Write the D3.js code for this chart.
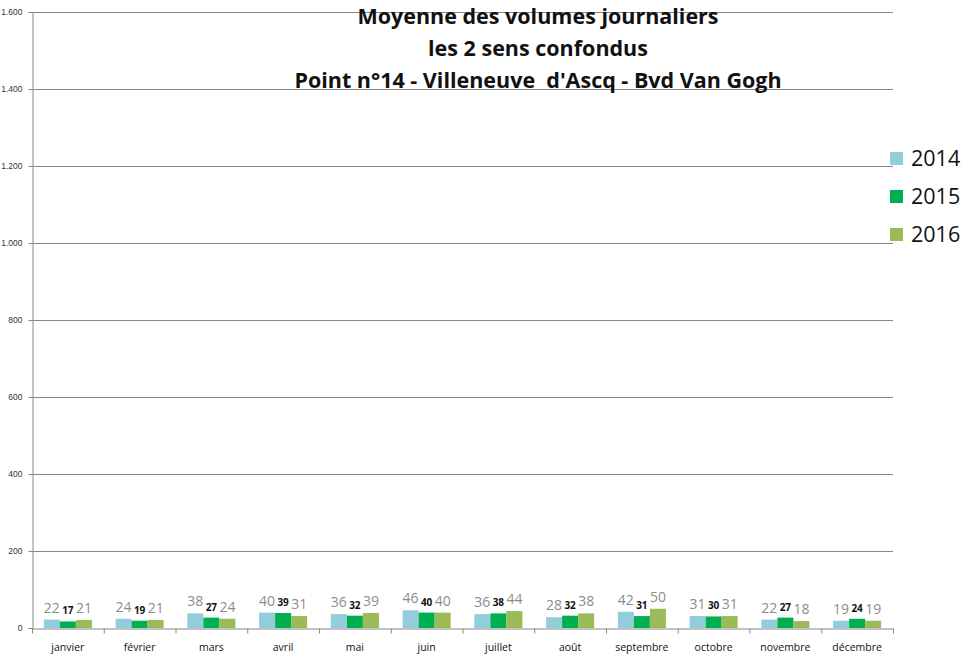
<!DOCTYPE html>
<html><head><meta charset="utf-8">
<script src="https://cdn.jsdelivr.net/npm/d3@7"></script>
<style>body{margin:0;background:#fff}svg{display:block}</style>
</head><body>
<svg id="c" width="970" height="659"></svg>
<script>
const months = ["janvier","février","mars","avril","mai","juin","juillet","août","septembre","octobre","novembre","décembre"];
const years = ["2014","2015","2016"];
const v2014 = [22,24,38,40,36,46,36,28,42,31,22,19];
const v2015 = [17,19,27,39,32,40,38,32,31,30,27,24];
const v2016 = [21,21,24,31,39,40,44,38,50,31,18,19];
const yTicks = [0,200,400,600,800,1000,1200,1400,1600];
const titleLines = ["Moyenne des volumes journaliers","les 2 sens confondus","Point n°14 - Villeneuve  d'Ascq - Bvd Van Gogh"];
const colors = ["#92CDDC","#00B050","#9BBB59"];
const series = [v2014, v2015, v2016];

const svg = d3.select("#c");
const L = 32, R = 893, T = 12, B = 628;
const x = d3.scaleBand().domain(months).range([L, R]).paddingInner(0.33).paddingOuter(0.165);
const xc = d3.scaleBand().domain(months).range([L, R]);
const xs = d3.scaleBand().domain(years).range([0, x.bandwidth()]);
const y = d3.scaleLinear().domain([0,1600]).range([B, T]);
const fmt = v => v >= 1000 ? d3.format(",")(v).replace(",", ".") : String(v);

// gridlines
svg.append("g").selectAll("line").data(yTicks.filter(d=>d>0)).join("line")
  .attr("x1", L).attr("x2", R).attr("y1", d=>y(d)+0.5).attr("y2", d=>y(d)+0.5)
  .attr("stroke", "#878787").attr("stroke-width", 1);

// y axis
const ya = svg.append("g").attr("transform", `translate(${L+0.5},0)`)
  .call(d3.axisLeft(y).tickValues(yTicks).tickSize(4).tickFormat(fmt));
ya.select(".domain").attr("stroke", "#878787");
ya.selectAll(".tick line").attr("stroke", "#878787");
ya.selectAll(".tick text").attr("x", -10).attr("font-family", "'Liberation Sans', Arial, sans-serif")
  .attr("font-size", 8.5).attr("fill", "#333");

// bars
years.forEach((yr, i) => {
  svg.append("g").selectAll("rect").data(months).join("rect")
    .attr("x", m => x(m) + xs(yr)).attr("width", xs.bandwidth())
    .attr("y", (m, j) => y(series[i][j])).attr("height", (m, j) => B - y(series[i][j]))
    .attr("fill", colors[i]);
});

// x axis
const xa = svg.append("g").attr("transform", `translate(0,${B+0.5})`)
  .call(d3.axisBottom(xc).tickSize(5).tickSizeOuter(0).tickFormat(""));
xa.select(".domain").attr("stroke", "#878787");
xa.selectAll(".tick").remove();
const edges = months.map(m => xc(m)).concat([R]);
xa.selectAll("line.e").data(edges).join("line").attr("class","e")
  .attr("x1", d=>d+0.5).attr("x2", d=>d+0.5).attr("y1", 0).attr("y2", 5).attr("stroke", "#878787");
svg.append("g").selectAll("text").data(months).join("text")
  .attr("x", m => xc(m) + xc.bandwidth()/2).attr("y", 651)
  .attr("text-anchor", "middle").attr("font-family", "'Open Sans', sans-serif")
  .attr("font-size", 10.5).attr("fill", "#111").text(m => m);

// value labels
years.forEach((yr, i) => {
  svg.append("g").selectAll("text").data(months).join("text")
    .attr("x", m => x(m) + xs(yr) + xs.bandwidth()/2)
    .attr("y", (m, j) => y(series[i][j]) - 7)
    .attr("text-anchor", "middle")
    .attr("font-family", "'Open Sans', sans-serif")
    .attr("font-size", i === 1 ? 10 : 14)
    .attr("font-weight", i === 1 ? "bold" : "normal")
    .attr("fill", i === 1 ? "#111" : "#8c8c8c")
    .text((m, j) => series[i][j]);
});

// title
svg.append("g").selectAll("text").data(titleLines).join("text")
  .attr("x", 538).attr("y", (d, i) => 23.5 + i * 32)
  .attr("text-anchor", "middle").attr("font-family", "'Open Sans', sans-serif")
  .attr("font-weight", "bold").attr("font-size", 21.5).attr("fill", "#111")
  .attr("xml:space", "preserve").style("white-space", "pre").text(d => d);

// legend
const lg = svg.append("g").selectAll("g").data(years).join("g")
  .attr("transform", (d, i) => `translate(890,${152 + i * 38})`);
lg.append("rect").attr("width", 13).attr("height", 13).attr("fill", (d, i) => colors[i]);
lg.append("text").attr("x", 21).attr("y", 14).attr("font-family", "'Open Sans', sans-serif")
  .attr("font-size", 21.5).attr("fill", "#111").text(d => d);
</script>
</body></html>
